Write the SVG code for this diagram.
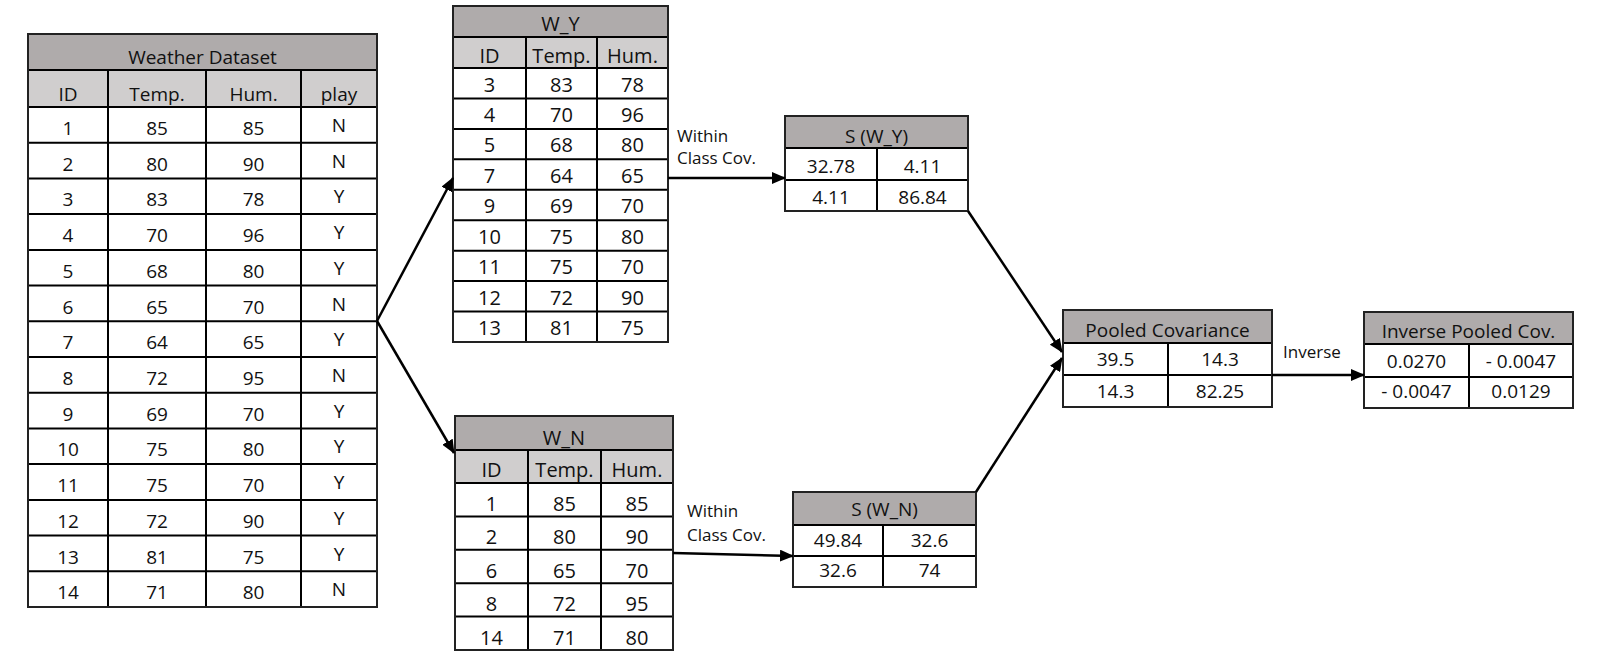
<svg xmlns="http://www.w3.org/2000/svg" width="1617" height="666" viewBox="0 0 1617 666">
<style>
text{font-family:"Open Sans","Noto Sans","Liberation Sans",sans-serif;fill:#111;text-anchor:middle}
.t19{font-size:19px}
.t20{font-size:20px}
.lab{font-size:17px;text-anchor:start}
.tb{fill:#AFABAB}
.hd{fill:#D0CECE}
.bg{fill:#fff}
.grid{fill:none;stroke:#000;stroke-width:2}
.out{fill:none;stroke:#222;stroke-width:2}
.conn{fill:none;stroke:#000;stroke-width:2.5}
</style>
<defs>
<marker id="ah" markerUnits="userSpaceOnUse" markerWidth="14" markerHeight="12" refX="13" refY="6" orient="auto">
<path d="M0,0 L14,6 L0,12 Z" fill="#000"/>
</marker>
</defs>
<rect width="1617" height="666" fill="#fff"/>

<g id="weather">
<rect class="bg" x="28" y="34" width="349" height="573"/>
<rect class="tb" x="28" y="34" width="349" height="36"/>
<rect class="hd" x="28" y="70" width="349" height="37"/>
<path class="grid" d="M28,70H377M28,107H377M28,142.7H377M28,178.4H377M28,214.1H377M28,249.9H377M28,285.6H377M28,321.3H377M28,357H377M28,392.7H377M28,428.4H377M28,464.1H377M28,499.9H377M28,535.6H377M28,571.3H377M108,70V607M206,70V607M301,70V607"/>
<rect class="out" x="28" y="34" width="349" height="573"/>
<g class="t19">
<text x="202.5" y="64">Weather Dataset</text>
<text x="68" y="101">ID</text><text x="157" y="101">Temp.</text><text x="253.5" y="101">Hum.</text><text x="339" y="101">play</text>
<text x="68" y="135">1</text><text x="157" y="135">85</text><text x="253.5" y="135">85</text><text x="339" y="132">N</text>
<text x="68" y="170.7">2</text><text x="157" y="170.7">80</text><text x="253.5" y="170.7">90</text><text x="339" y="167.7">N</text>
<text x="68" y="206.4">3</text><text x="157" y="206.4">83</text><text x="253.5" y="206.4">78</text><text x="339" y="203.4">Y</text>
<text x="68" y="242.1">4</text><text x="157" y="242.1">70</text><text x="253.5" y="242.1">96</text><text x="339" y="239.1">Y</text>
<text x="68" y="277.9">5</text><text x="157" y="277.9">68</text><text x="253.5" y="277.9">80</text><text x="339" y="274.9">Y</text>
<text x="68" y="313.6">6</text><text x="157" y="313.6">65</text><text x="253.5" y="313.6">70</text><text x="339" y="310.6">N</text>
<text x="68" y="349.3">7</text><text x="157" y="349.3">64</text><text x="253.5" y="349.3">65</text><text x="339" y="346.3">Y</text>
<text x="68" y="385">8</text><text x="157" y="385">72</text><text x="253.5" y="385">95</text><text x="339" y="382">N</text>
<text x="68" y="420.7">9</text><text x="157" y="420.7">69</text><text x="253.5" y="420.7">70</text><text x="339" y="417.7">Y</text>
<text x="68" y="456.4">10</text><text x="157" y="456.4">75</text><text x="253.5" y="456.4">80</text><text x="339" y="453.4">Y</text>
<text x="68" y="492.1">11</text><text x="157" y="492.1">75</text><text x="253.5" y="492.1">70</text><text x="339" y="489.1">Y</text>
<text x="68" y="527.9">12</text><text x="157" y="527.9">72</text><text x="253.5" y="527.9">90</text><text x="339" y="524.9">Y</text>
<text x="68" y="563.6">13</text><text x="157" y="563.6">81</text><text x="253.5" y="563.6">75</text><text x="339" y="560.6">Y</text>
<text x="68" y="599.3">14</text><text x="157" y="599.3">71</text><text x="253.5" y="599.3">80</text><text x="339" y="596.3">N</text>
</g>
</g>

<g id="wy">
<rect class="bg" x="453" y="6" width="215" height="336"/>
<rect class="tb" x="453" y="6" width="215" height="31"/>
<rect class="hd" x="453" y="37" width="215" height="31"/>
<path class="grid" d="M453,37H668M453,68H668M453,98.4H668M453,128.9H668M453,159.3H668M453,189.8H668M453,220.2H668M453,250.7H668M453,281.1H668M453,311.6H668M526,37V342M597,37V342"/>
<rect class="out" x="453" y="6" width="215" height="336"/>
<g class="t20">
<text x="560.5" y="31">W_Y</text>
<text x="489.5" y="63">ID</text><text x="561.5" y="63">Temp.</text><text x="632.5" y="63">Hum.</text>
<text x="489.5" y="91.5">3</text><text x="561.5" y="91.5">83</text><text x="632.5" y="91.5">78</text>
<text x="489.5" y="121.9">4</text><text x="561.5" y="121.9">70</text><text x="632.5" y="121.9">96</text>
<text x="489.5" y="152.4">5</text><text x="561.5" y="152.4">68</text><text x="632.5" y="152.4">80</text>
<text x="489.5" y="182.8">7</text><text x="561.5" y="182.8">64</text><text x="632.5" y="182.8">65</text>
<text x="489.5" y="213.3">9</text><text x="561.5" y="213.3">69</text><text x="632.5" y="213.3">70</text>
<text x="489.5" y="243.7">10</text><text x="561.5" y="243.7">75</text><text x="632.5" y="243.7">80</text>
<text x="489.5" y="274.2">11</text><text x="561.5" y="274.2">75</text><text x="632.5" y="274.2">70</text>
<text x="489.5" y="304.6">12</text><text x="561.5" y="304.6">72</text><text x="632.5" y="304.6">90</text>
<text x="489.5" y="335.1">13</text><text x="561.5" y="335.1">81</text><text x="632.5" y="335.1">75</text>
</g>
</g>

<g id="wn">
<rect class="bg" x="455" y="416" width="218" height="234"/>
<rect class="tb" x="455" y="416" width="218" height="34"/>
<rect class="hd" x="455" y="450" width="218" height="33"/>
<path class="grid" d="M455,450H673M455,483H673M455,516.4H673M455,549.8H673M455,583.2H673M455,616.6H673M528,450V650M601,450V650"/>
<rect class="out" x="455" y="416" width="218" height="234"/>
<g class="t20">
<text x="564" y="445">W_N</text>
<text x="491.5" y="477">ID</text><text x="564.5" y="477">Temp.</text><text x="637" y="477">Hum.</text>
<text x="491.5" y="511">1</text><text x="564.5" y="511">85</text><text x="637" y="511">85</text>
<text x="491.5" y="544.4">2</text><text x="564.5" y="544.4">80</text><text x="637" y="544.4">90</text>
<text x="491.5" y="577.8">6</text><text x="564.5" y="577.8">65</text><text x="637" y="577.8">70</text>
<text x="491.5" y="611.2">8</text><text x="564.5" y="611.2">72</text><text x="637" y="611.2">95</text>
<text x="491.5" y="644.6">14</text><text x="564.5" y="644.6">71</text><text x="637" y="644.6">80</text>
</g>
</g>

<g id="swy">
<rect class="bg" x="785" y="116" width="183" height="95"/>
<rect class="tb" x="785" y="116" width="183" height="32"/>
<path class="grid" d="M785,148H968M785,180H968M877,148V211"/>
<rect class="out" x="785" y="116" width="183" height="95"/>
<g class="t19">
<text x="876.5" y="143">S (W_Y)</text>
<text x="831" y="173">32.78</text><text x="922.5" y="173">4.11</text>
<text x="831" y="204">4.11</text><text x="922.5" y="204">86.84</text>
</g>
</g>

<g id="swn">
<rect class="bg" x="793" y="492" width="183" height="95"/>
<rect class="tb" x="793" y="492" width="183" height="33"/>
<path class="grid" d="M793,525H976M793,556H976M883,525V587"/>
<rect class="out" x="793" y="492" width="183" height="95"/>
<g class="t19">
<text x="884.5" y="516">S (W_N)</text>
<text x="838" y="547">49.84</text><text x="929.5" y="547">32.6</text>
<text x="838" y="577">32.6</text><text x="929.5" y="577">74</text>
</g>
</g>

<g id="pooled">
<rect class="bg" x="1063" y="310" width="209" height="97"/>
<rect class="tb" x="1063" y="310" width="209" height="33"/>
<path class="grid" d="M1063,343H1272M1063,375H1272M1168,343V407"/>
<rect class="out" x="1063" y="310" width="209" height="97"/>
<g class="t19">
<text x="1167.5" y="337">Pooled Covariance</text>
<text x="1115.5" y="366">39.5</text><text x="1220" y="366">14.3</text>
<text x="1115.5" y="398">14.3</text><text x="1220" y="398">82.25</text>
</g>
</g>

<g id="inverse">
<rect class="bg" x="1364" y="312" width="209" height="96"/>
<rect class="tb" x="1364" y="312" width="209" height="32"/>
<path class="grid" d="M1364,344H1573M1364,377H1573M1469,344V408"/>
<rect class="out" x="1364" y="312" width="209" height="96"/>
<g class="t19">
<text x="1468.5" y="338">Inverse Pooled Cov.</text>
<text x="1416.5" y="368">0.0270</text><text x="1521" y="368">- 0.0047</text>
<text x="1416.5" y="398">- 0.0047</text><text x="1521" y="398">0.0129</text>
</g>
</g>

<g id="connectors">
<path class="conn" marker-end="url(#ah)" d="M377,321L453,178"/>
<path class="conn" marker-end="url(#ah)" d="M377,321L454,453"/>
<path class="conn" marker-end="url(#ah)" d="M668,178L785,178"/>
<path class="conn" marker-end="url(#ah)" d="M673,553L793,556"/>
<path class="conn" marker-end="url(#ah)" d="M968,211L1062,352"/>
<path class="conn" marker-end="url(#ah)" d="M976,492L1062,358"/>
<path class="conn" marker-end="url(#ah)" d="M1272,375L1364,375"/>
<g class="lab">
<text class="lab" x="677" y="142">Within</text>
<text class="lab" x="677" y="164">Class Cov.</text>
<text class="lab" x="687" y="517">Within</text>
<text class="lab" x="687" y="541">Class Cov.</text>
<text class="lab" x="1283" y="358">Inverse</text>
</g>
</g>
</svg>
